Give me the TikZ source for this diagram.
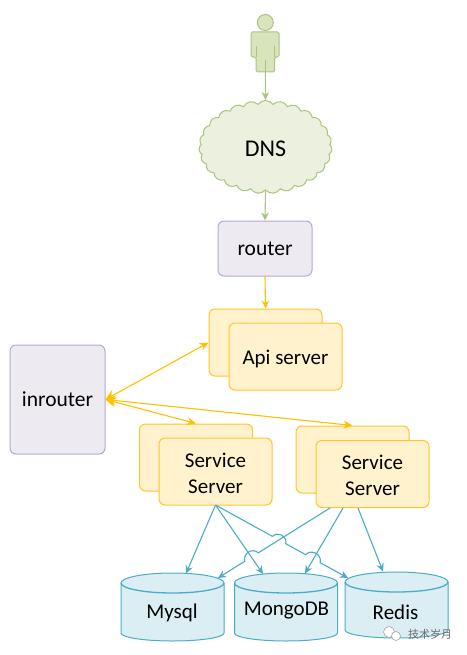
\documentclass[tikz,border=0pt]{standalone}
\usepackage{fontspec}
\setmainfont{Carlito}
\newfontfamily\cjkfont{Noto Sans CJK SC}
\usetikzlibrary{arrows.meta,calc,shapes.symbols}
\definecolor{leafline}{HTML}{A9C47F}
\definecolor{leaffill}{HTML}{EBF1DE}
\definecolor{bodyfill}{HTML}{D8E4BC}
\definecolor{plumline}{HTML}{B8A9CF}
\definecolor{plumfill}{HTML}{EEEAF2}
\definecolor{goldline}{HTML}{FFC52B}
\definecolor{goldlink}{HTML}{FFC000}
\definecolor{goldfill}{HTML}{FFF2CC}
\definecolor{tealline}{HTML}{4BACC6}
\definecolor{tealfill}{HTML}{DAEEF3}
\tikzset{
  routerbox/.style={draw=plumline, fill=plumfill, line width=1pt, rounded corners=6pt, font=\fontsize{21.5}{25}\selectfont, inner sep=0pt},
  serverbox/.style={draw=goldline, fill=goldfill, line width=1pt, rounded corners=6pt, minimum width=113pt, minimum height=67pt, font=\fontsize{21}{26}\selectfont, align=center, inner sep=0pt, text depth=0pt},
  dblabel/.style={font=\fontsize{21}{25}\selectfont, inner sep=0pt},
  drum/.pic={
    \draw[draw=tealline, fill=tealfill, line width=1pt]
      (-51.5,-#1+10) -- (-51.5,#1-8) arc[start angle=180, end angle=360, x radius=51.5pt, y radius=8pt]
      -- (51.5,-#1+10) arc[start angle=0, end angle=180, x radius=51.5pt, y radius=10pt] -- cycle;
    \draw[draw=tealline, line width=1.3pt]
      (-51.5,-#1+10) arc[start angle=180, end angle=360, x radius=51.5pt, y radius=10pt];
  },
  greenarrow/.style={-{Stealth[length=8pt,width=7.5pt]}, leafline, line width=1.1pt},
  goldarrow/.style={-{Stealth[length=8pt,width=7.5pt]}, goldlink, line width=1.1pt},
  goldboth/.style={{Stealth[length=10pt,width=10pt]}-{Stealth[length=9pt,width=8pt]}, goldlink, line width=1.1pt},
  tealarrow/.style={-{Stealth[length=8pt,width=7.5pt]}, tealline, line width=1.1pt},
}
\begin{document}
\begin{tikzpicture}[x=1pt,y=-1pt]
  \useasboundingbox (0,0) rectangle (466,655);
  % user figure
  \draw[leafline, fill=bodyfill, line width=1pt, rounded corners=1.5pt]
    (251,32) -- (279,32) -- (279,57) -- (274.7,57) -- (274.7,72) -- (256,72) -- (256,57) -- (251,57) -- cycle;
  \draw[leafline, line width=1pt] (256,46) -- (256,57) (274.7,46) -- (274.7,57) (265.3,60) -- (265.3,72);
  \draw[leafline, fill=bodyfill, line width=1pt] (265.3,22.5) circle (8pt);
  \coordinate (user) at (265.3,72);
  % cloud and routers
  \node[cloud, cloud puffs=27, cloud puff arc=110, aspect=1.43, draw=leafline, fill=leaffill, line width=1pt,
    minimum width=133pt, minimum height=93pt, inner sep=0pt, text height=19pt, font=\fontsize{24}{28}\selectfont] (dns) at (265.5,147) {DNS};
  \node[routerbox, minimum width=94pt, minimum height=55pt] (router) at (265,248.5) {router};
  \node[routerbox, minimum width=95pt, minimum height=109pt] (inrouter) at (57.5,399.5) {inrouter};
  % servers
  \node[serverbox] (apiback) at (265.5,342.5) {};
  \node[serverbox, text height=16pt] (api) at (285.5,356.5) {Api server};
  \node[serverbox] (serviceaback) at (196,457.5) {};
  \node[serverbox, text height=43pt] (servicea) at (215.5,471.5) {Service\\Server};
  \node[serverbox] (servicebback) at (352.5,459.5) {};
  \node[serverbox, text height=43pt] (serviceb) at (372.5,474) {Service\\Server};
  % databases
  \pic at (172.5,607) {drum=34};
  \pic at (286,607) {drum=34};
  \pic at (396.5,605) {drum=33};
  \node[dblabel] (mysql) at (172,613) {Mysql};
  \node[dblabel] (mongo) at (286.5,611) {MongoDB};
  \node[dblabel] (redis) at (395.5,612) {Redis};
  % free ends of the database links
  \coordinate (aout) at (215.5,505);
  \coordinate (bleft) at (330,508);
  \coordinate (bmid) at (343,508);
  \coordinate (bright) at (358,508);
  \coordinate (mysqla) at (186,573.5);
  \coordinate (mysqlb) at (218,578);
  \coordinate (mongoa) at (263,574);
  \coordinate (mongob) at (305,573.5);
  \coordinate (redisa) at (348,578);
  \coordinate (redisb) at (383,571.5);
  % top links
  \draw[greenarrow] (user) -- (dns.north);
  \draw[greenarrow] (dns.south) -- (router.north);
  \draw[goldarrow] (router.south) -- (apiback.north);
  \draw[goldboth] (inrouter.east) -- (apiback.west);
  \draw[goldboth] (inrouter.east) -- (serviceaback.north);
  \draw[goldboth] (inrouter.east) -- (servicebback.north);
  % database links
  \draw[tealarrow] (aout) -- (mysqla);
  \draw[tealarrow] (aout) -- (mongoa);
  \draw[tealarrow] (aout) -- ($(aout)!0.43!(redisa)$)
    to[bend left=75, looseness=1.3] ($(aout)!0.53!(redisa)$) -- ($(aout)!0.68!(redisa)$)
    to[bend left=75, looseness=1.3] ($(aout)!0.79!(redisa)$) -- (redisa);
  \draw[tealarrow] (bleft) -- ($(bleft)!0.64!(mysqlb)$)
    to[bend right=75, looseness=1.3] ($(bleft)!0.76!(mysqlb)$) -- (mysqlb);
  \draw[tealarrow] (bmid) -- (mongob);
  \draw[tealarrow] (bright) -- (redisb);
  % watermark
  \draw[gray!70, fill=white, line width=0.6pt] (389,632) circle (5.5pt);
  \draw[gray!70, fill=white, line width=0.6pt] (396,636) circle (4.5pt);
  \node[gray!85!black, font=\cjkfont\fontsize{11}{13}\selectfont, inner sep=0pt] (mark) at (430,634) {技术岁月};
\end{tikzpicture}
\end{document}
